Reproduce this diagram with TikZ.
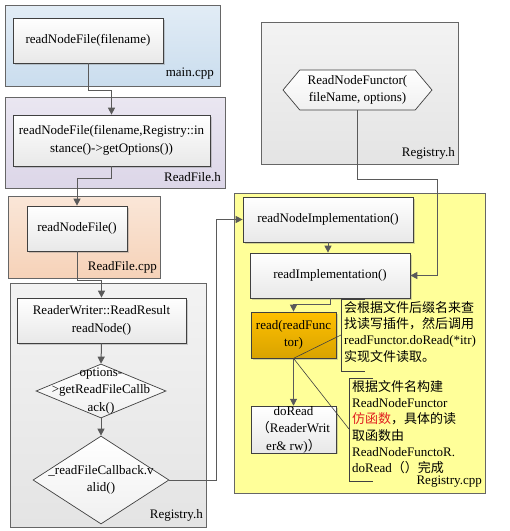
\documentclass[tikz,border=0pt]{standalone}
\usepackage{fontspec}
\setmainfont{Liberation Serif}
\newfontfamily\cjk{Noto Sans CJK SC}
\usetikzlibrary{arrows.meta,shapes.geometric,shapes.symbols,shadows}

\definecolor{edge}{HTML}{404040}
\definecolor{wire}{HTML}{5A5A5A}
\definecolor{mainblue}{HTML}{CADDEE}
\definecolor{hpurple}{HTML}{DCD6E8}
\definecolor{cpppeach}{HTML}{F6D2B8}
\definecolor{reggray}{HTML}{E4E4E4}
\definecolor{regyellow}{HTML}{FFFF99}
\definecolor{readorange}{HTML}{FFC000}
\definecolor{notered}{HTML}{E02020}

\tikzset{
  every node/.style={font=\fontsize{13}{17.5}\selectfont},
  frame/.style={draw=edge!80, line width=0.8pt},
  func/.style={draw=edge, line width=0.7pt, top color=white, bottom color=gray!18,
    drop shadow={shadow xshift=1.5pt, shadow yshift=-1.5pt, opacity=0.35},
    align=center, inner sep=0pt},
  test/.style={shape=diamond, draw=edge, line width=0.7pt, top color=white,
    bottom color=gray!12, inner sep=0pt},
  flow/.style={draw=wire, line width=1pt, -{Triangle[length=7pt,width=7pt]}},
  lead/.style={draw=edge, line width=0.6pt},
  note/.style={anchor=north west, align=left, inner sep=0pt,
    font=\fontsize{13}{16.3}\selectfont},
  filelbl/.style={anchor=east, inner sep=0pt}
}

\begin{document}
\begin{tikzpicture}[x=1pt,y=-1pt]
\useasboundingbox (0,0) rectangle (510,531);

% file frames
\filldraw[frame, top color=mainblue!55, bottom color=mainblue] (5,5) rectangle (220,86);
\filldraw[frame, top color=hpurple!60, bottom color=hpurple] (5,97) rectangle (225,188);
\filldraw[frame, top color=cpppeach!55, bottom color=cpppeach] (8,196) rectangle (160,278);
\filldraw[frame, top color=reggray!45, bottom color=reggray] (10,283) rectangle (206,527);
\filldraw[frame, top color=reggray!45, bottom color=reggray] (261,22) rectangle (458,164);
\filldraw[frame, fill=regyellow] (234,193) rectangle (485,493);

\node[filelbl] (lmain) at (214,74) {main.cpp};
\node[filelbl] (lfileh) at (221,177) {ReadFile.h};
\node[filelbl] (lfilecpp) at (157,267) {ReadFile.cpp};
\node[filelbl] (lregh) at (203,515) {Registry.h};
\node[filelbl] (lregh2) at (455,153) {Registry.h};
\node[filelbl] (lregcpp) at (482,482) {Registry.cpp};

% left column
\node[func, minimum width=150pt, minimum height=45pt] (f1) at (88,40.5) {readNodeFile(filename)};
\node[func, minimum width=197pt, minimum height=51pt] (f2) at (111.5,140.5)
  {readNodeFile(filename,Registry::in\\stance()->getOptions())};
\node[func, minimum width=100pt, minimum height=45pt] (f3) at (77,228.5) {readNodeFile()};
\node[func, minimum width=169pt, minimum height=45pt] (rr) at (101.5,320.5)
  {ReaderWriter::ReadResult\\readNode()};
\node[test, minimum width=130pt, minimum height=54pt] (d1) at (101,391) {};
\node[align=center, inner sep=0pt] (d1t) at (d1) {options-\\>getReadFileCallb\\ack()};
\node[test, minimum width=136pt, minimum height=88pt] (d2) at (101,480) {};
\node[align=center, inner sep=0pt] (d2t) at (d2) {\_readFileCallback.v\\alid()};

% right column
\node[shape=signal, signal to=west and east, signal pointer angle=100,
  draw=edge, line width=0.7pt, top color=white, bottom color=gray!12,
  minimum width=149pt, minimum height=40pt, inner sep=0pt] (fun) at (357.5,90) {};
\node[align=center, inner sep=0pt] (funt) at (fun) {ReadNodeFunctor(\\fileName, options)};
\node[func, minimum width=170pt, minimum height=45pt] (ni) at (328,219.5) {readNodeImplementation()};
\node[func, minimum width=160pt, minimum height=45pt] (ri) at (330,275.5) {readImplementation()};
\node[func, top color=readorange, bottom color=readorange!85!black, draw=edge,
  minimum width=85pt, minimum height=46pt] (rd) at (293.5,335) {read(readFunc\\tor)};
\node[func, minimum width=85pt, minimum height=45pt] (dr) at (293.5,429.5)
  {doRead\\{\cjk （}ReaderWrit\\er\& rw){\cjk ）}};

% flow
\draw[flow] (f1.south) -- ++(0,27) -| (f2.north);
\draw[flow] (f2.south) -- ++(0,12) -| (f3.north);
\draw[flow] (f3.south) -- ++(0,29) -| (rr.north);
\draw[flow] (rr.south) -- (d1.north);
\draw[flow] (d1.south) -- (d2.north);
\draw[flow] (d2.east) -- ++(47,0) |- (ni.west);
\draw[flow] (fun.south) -- ++(0,69) -| ([xshift=27pt]ri.east) -- (ri.east);
\draw[flow] (ni.south) -- (ni.south |- ri.north);
\draw[flow] (ri.south) -- ++(0,6) -| (rd.north);
\draw[flow] (rd.south) -- (dr.north);

% notes
\coordinate (c1) at (341,335);
\coordinate (c2) at (349,429);
\draw[lead] (365,299) -- (341,299) -- (341,371) -- (365,371);
\draw[lead] (373,378) -- (349,378) -- (349,481) -- (373,481);
\draw[lead] (rd.south) -- (c1);
\draw[lead] (rd.south) -- (c2);

\node[note] (n1) at (344,301)
  {{\cjk 会根据文件后缀名来查}\\{\cjk 找读写插件，然后调用}\\readFunctor.doRead(*itr)\\{\cjk 实现文件读取。}};
\node[note] (n2) at (352,380)
  {{\cjk 根据文件名构建}\\ReadNodeFunctor\\{\cjk\color{notered}仿函数}{\cjk ，具体的读}\\{\cjk 取函数由}\\ReadNodeFunctoR.\\doRead{\cjk （）完成}};

\end{tikzpicture}
\end{document}
